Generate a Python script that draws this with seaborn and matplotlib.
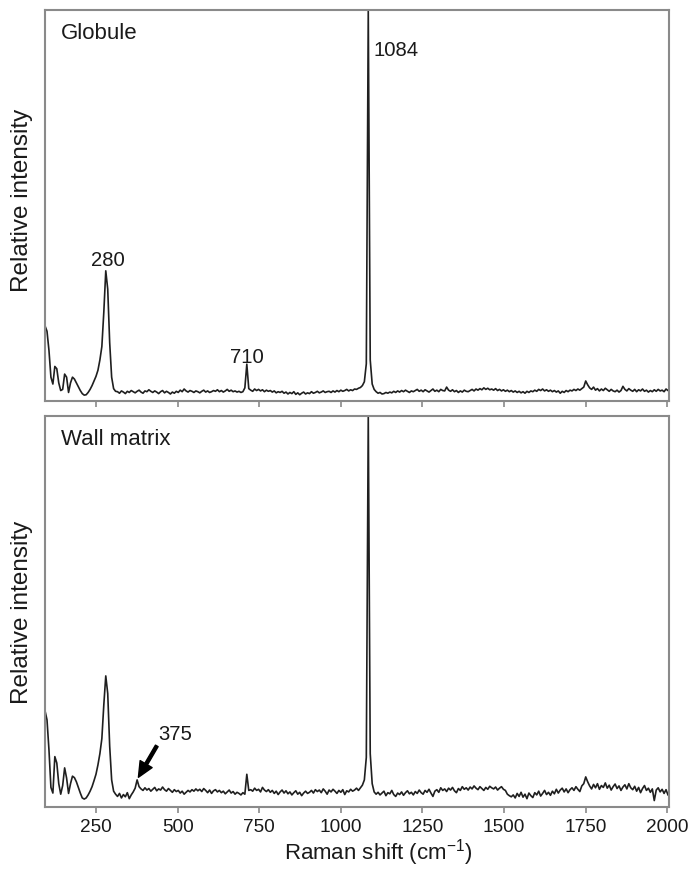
import numpy as np
import pandas as pd
import matplotlib
matplotlib.use("Agg")
import matplotlib.pyplot as plt
import seaborn as sns

# Raman shift grid (cm-1), 6 cm-1 step
raman_shift = np.arange(94, 2009, 6)

# Globule spectrum (relative intensity x1000)
globule = [
    174, 160, 110, 40, 22, 68, 62, 25, 5, 8,
    48, 40, 0, 25, 40, 35, 25, 15, 5, -3,
    -7, -6, 0, 8, 18, 30, 42, 58, 85, 120,
    210, 318, 270, 130, 40, 10, 3,
    2, -2, 4, 1, -3, 3, 0, 5, 2, -1,
    3, 6, 1, -2, 4, 2, 7, 3, 0, 4,
    1, -3, 2, 5, -1, 3, 0, -4, 1, -2,
    3, 0, 6, 2, 9, 4, 1, 5, 3, 0,
    4, 2, -1, 3, 6, 1, 4, 0, 2, 5,
    3, 7, 2, 5, 1, 4, 8, 3, 6, 2,
    4, 1, 3, 0, 2,
    12, 74, 10,
    6, 3, 9, 5, 8, 4, 7, 2, 6, 3,
    5, 1, 4, -1, 2, 0, 3, -2, 1, -4,
    0, -3, 2, -5, -1, -6, -2, 1, -4, -1,
    -3, 2, -2, 0, 3, -1, 1, 4, 0, 2,
    3, 0, 4, 1, 5, 2, 6, 3, 5, 8,
    4, 7, 5, 9, 8, 11, 13, 18, 28,
    75, 1000, 85, 22, 8,
    2, -2, 0, -4, -3, 0, -2, 1, -1, 3,
    0, 4, 1, 5, 2, 6, 3, 0, 4, 2,
    5, 8, 3, 6, 2, 7, 4, 1, 5, 9,
    3, 6, 2, 8, 5, 4, 14, 6, 3, 7,
    2, 5, 0, 4, 1, 6, 3, 2, 5, 8,
    4, 9, 6, 10, 7, 12, 8, 11, 7, 9,
    6, 10, 5, 8, 4, 7, 3, 6, 2, 5,
    1, 4, 0, 3, -1, 2, -2, 3, 0, 4,
    2, 6, 3, 8, 5, 9, 4, 7, 3, 6,
    2, 5, 1, 4, -2, 3, 0, 5, 2, 6,
    4, 8, 5, 9, 6, 10, 14,
    30, 20,
    12, 8, 14, 6, 10, 4, 9, 5, 11, 7,
    3, 8, 4, 2, 6, 1, 5, 16, 8, 4,
    10, 6, 3, 8, 2, 7, 4, 9, 3, 6,
    1, 5, 2, 7, 3, 8, 4, 6, 2, 9, 5, 7,
]

# Wall matrix spectrum (relative intensity x1000)
wall_matrix = [
    214, 190, 110, 10, -5, 92, 75, 20, -8, 15,
    62, 35, -6, 20, 40, 36, 25, 10, -5, -18,
    -21, -18, -10, 0, 12, 28, 45, 70, 100, 140,
    230, 307, 260, 120, 30, 0, -8,
    -14, -6, -18, -9, -15, -4, -20, -10, -2, 8,
    30, 12,
    6, 2, 9, 3, 7, 0, 5, 10, 1, 6,
    3, 11, 4, 0, 7, 2, -3, 4, -1, 2,
    -5, 0, -8, -3, 2, -2, 4, 0, 6, 1,
    5, -1, 7, 2, -4, 3, -6, 1, 4, -2,
    2, -4, 0, -7, -2, 3, -5, -1, -8, -3,
    -6, -10, -4, -8,
    45, 2,
    4, 0, 8, 2, 5, -2, 10, 3, -1, 4,
    -3, 2, -6, 0, -9, -2, 3, -5, 1, -7,
    -2, -10, -4, 1, -8, -3, -12, -5, 0, -6,
    -3, 2, -5, 4, -1, 3, -4, 6, 0, -8,
    3, -2, 5, 0, -6, 2, -3, 4, -9, 1,
    -2, 5, 0, 3, 8, 2, 9, 16, 30,
    90, 1000, 100, 20, -2,
    -8, -3, -10, -5, 0, -12, -4, -7, 2, -9,
    -14, -5, -9, -2, -11, -4, 1, -7, -3, -10,
    -1, -6, 3, -4, -8, 2, -3, 5, -5, -14,
    0, 4, -3, 9, 2, 6, -1, 8, 3, 10,
    1, -4, 7, 2, 12, 5, 9, 3, 11, 6,
    14, 8, 4, 12, 7, 2, 10, 5, 13, 9,
    6, 11, 3, 8, 12, 5, 2, -8, -12, -15,
    -10, -18, -6, -14, -3, -16, -8, -20, -5, -12,
    -17, -4, -10, 0, -13, -6, 2, -9, -3, -11,
    0, -7, 5, -5, 3, 8, -2, 6, -4, 4,
    9, 2, 12, 5, -1, 14, 20,
    38, 25,
    14, 6, 18, 9, 20, 5, 15, 10, 22, 8,
    16, 3, 12, 19, 7, 14, 2, 11, 17, 6,
    20, 9, 4, 13, 0, 10, -4, 7, 15, 2,
    8, -3, 6, -25, 3, 9, -2, 5, -6, 4, -10, -15,
]

x_ticks = [250, 500, 750, 1000, 1250, 1500, 1750, 2000]
panel_titles = ["Globule", "Wall matrix"]

sns.set_theme(style="white")
plt.rcParams["font.family"] = ["Liberation Sans", "DejaVu Sans"]
plt.rcParams["mathtext.fontset"] = "custom"
plt.rcParams["mathtext.rm"] = "Liberation Sans"
plt.rcParams["mathtext.default"] = "regular"

FS_TICK = 13.7
FS_PEAK = 14.6
FS_TITLE = 16
FS_YLAB = 17.5
FS_XLAB = 16
LINE = "#1f1f1f"
SPINE = "#8a8a8a"
TXT = "#1a1a1a"

df_g = pd.DataFrame({"shift": raman_shift, "intensity": np.array(globule) / 1000.0})
df_w = pd.DataFrame({"shift": raman_shift, "intensity": np.array(wall_matrix) / 1000.0})

fig = plt.figure(figsize=(6.89, 8.70), dpi=100)
ax1 = fig.add_axes([0.0649, 0.5383, 0.9065, 0.4491])
ax2 = fig.add_axes([0.0649, 0.0709, 0.9065, 0.4501])

for ax, df, ylim, ylab_y in [(ax1, df_g, (-0.0215, 1.0), 0.515),
                             (ax2, df_w, (-0.043, 1.0), 0.50)]:
    sns.lineplot(data=df, x="shift", y="intensity", ax=ax, color=LINE,
                 linewidth=1.2, estimator=None, sort=False)
    ax.set_xlim(93, 2006)
    ax.set_ylim(*ylim)
    ax.set_xticks(x_ticks)
    ax.set_yticks([])
    for s in ax.spines.values():
        s.set_color(SPINE)
        s.set_linewidth(1.5)
    ax.tick_params(axis="x", direction="out", length=4, width=1.2,
                   color=SPINE, labelsize=FS_TICK, labelcolor=TXT,
                   bottom=True, pad=4)
    ax.set_ylabel("Relative intensity", fontsize=FS_YLAB, color=TXT)
    ax.yaxis.set_label_coords(-0.018, ylab_y)
    ax.set_xlabel("")

ax1.tick_params(axis="x", labelbottom=False)
ax1.text(0.026, 0.9276, panel_titles[0], transform=ax1.transAxes,
         fontsize=FS_TITLE, ha="left", va="baseline", color=TXT)
ax2.text(0.026, 0.928, panel_titles[1], transform=ax2.transAxes,
         fontsize=FS_TITLE, ha="left", va="baseline", color=TXT)

ax1.text(287, 0.333, "280", fontsize=FS_PEAK, ha="center", va="baseline", color=TXT)
ax1.text(712, 0.0805, "710", fontsize=FS_PEAK, ha="center", va="baseline", color=TXT)
ax1.text(1099, 0.882, "1084", fontsize=FS_PEAK, ha="left", va="baseline", color=TXT)

ax2.annotate("375", xy=(380, 0.037), xytext=(494, 0.140),
             fontsize=FS_PEAK, ha="center", va="baseline", color=TXT,
             arrowprops=dict(facecolor="black", edgecolor="black",
                             width=2.2, headwidth=10, headlength=11, shrink=0.0))

fig.text(378.5 / 689, 0.0125, "Raman shift (cm$^{-1}$)", fontsize=FS_XLAB,
         ha="center", va="baseline", color=TXT)

fig.savefig("out.png", dpi=100)
